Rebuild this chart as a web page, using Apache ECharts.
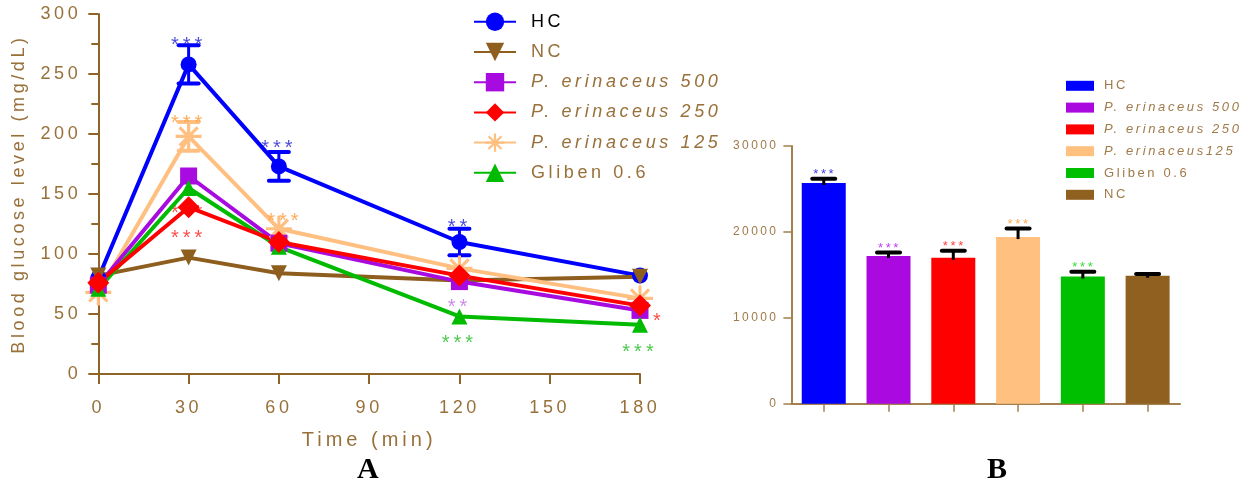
<!DOCTYPE html>
<html>
<head>
<meta charset="utf-8">
<script src="https://cdn.jsdelivr.net/npm/echarts@6/dist/echarts.min.js"></script>
<style>
  html, body { margin: 0; padding: 0; background: #fff; }
  #wrap { position: relative; width: 1252px; height: 481px; overflow: hidden; background: #fff; }
  #chartA { position: absolute; left: 0; top: 0; width: 730px; height: 481px; }
  #chartB { position: absolute; left: 730px; top: 0; width: 522px; height: 481px; }
</style>
</head>
<body>
<div id="wrap"><div id="chartA"></div><div id="chartB"></div></div>
<script>
// ---------- DATA (panel A: OGTT curve) ----------
const times = [0, 30, 60, 120, 180];
const seriesNames = ['HC', 'NC', 'P. erinaceus 500', 'P. erinaceus 250', 'P. erinaceus 125', 'Gliben 0.6'];
const hcValues     = [80, 258, 173, 110, 82];
const ncValues     = [82, 97, 84, 78, 81];
const pe500Values  = [74, 165, 109, 77, 53];
const pe250Values  = [76, 139, 110, 82, 57];
const pe125Values  = [68, 198, 121, 88, 63];
const glibenValues = [71, 155, 106, 48, 41];
const hcErr     = [0, 16, 12, 11, 0];
const ncErr     = [0, 0, 0, 0, 0];
const pe500Err  = [0, 0, 0, 0, 0];
const pe250Err  = [0, 0, 0, 0, 0];
const pe125Err  = [0, 12, 0, 0, 0];
const glibenErr = [0, 0, 0, 0, 0];
// significance marks: [time, value, text, series index]
const sigMarksA = [
  [30, 278, '***', 0], [60, 192, '***', 0], [120, 126, '**', 0],
  [30, 213, '***', 4], [62, 131, '***', 4],
  [30, 117, '***', 3], [186.3, 48, '*', 3],
  [120, 60, '**', 2],
  [120, 30, '***', 5], [180, 22.5, '***', 5]
];
const hiddenMarksA = [[30, 138, '***', 3]];

// ---------- DATA (panel B: AUC bars) ----------
const aucCategories = ['HC', 'P. erinaceus 500', 'P. erinaceus 250', 'P. erinaceus125', 'Gliben 0.6', 'NC'];
const aucValues = [25700, 17200, 17000, 19400, 14800, 14900];
const aucErr    = [500, 400, 800, 1000, 550, 200];
const aucStars  = ['***', '***', '***', '***', '***', ''];

// ---------- letter spacing emulation (for the wide-tracked sans text) ----------
(function () {
  const P = CanvasRenderingContext2D.prototype;
  function setLS(ctx) {
    try {
      const f = ctx.font || '';
      const m = /([\d.]+)px/.exec(f);
      const serif = /serif/i.test(f) && !/sans/i.test(f);
      const ls = (m && !serif) ? parseFloat(m[1]) * 0.2 : 0;
      ctx.letterSpacing = ls.toFixed(2) + 'px';
    } catch (e) {}
  }
  ['fillText', 'strokeText', 'measureText'].forEach(function (k) {
    const orig = P[k];
    P[k] = function () { setLS(this); return orig.apply(this, arguments); };
  });
})();

// ---------- STYLES ----------
const FONT = 'Liberation Sans, Arial, sans-serif';
const axisColA = '#8f6429';
const textColA = '#98703a';
const lineColors = ['#0000ff', '#8e5e1f', '#a80be0', '#ff0000', '#ffbf80', '#00bb00'];
const markColors = ['#1c1cd0', '#8e5e1f', '#c070e8', '#ff2020', '#ff9933', '#22bb22'];
const asteriskPath = 'path://M0 44H100V56H0Z M44 0H56V100H44Z M19.24 10.76L89.24 80.76L80.76 89.24L10.76 19.24Z M80.76 10.76L89.24 19.24L19.24 89.24L10.76 80.76Z';
const symbols = ['circle', 'triangle', 'rect', 'diamond', asteriskPath, 'triangle'];
const symbolSizes = [16, 16, 17, 22, 26, 16];
const symbolRot = [0, 180, 0, 0, 0, 0];

const valuesBySeries = [hcValues, ncValues, pe500Values, pe250Values, pe125Values, glibenValues];
const errBySeries = [hcErr, ncErr, pe500Err, pe250Err, pe125Err, glibenErr];
const drawOrder = [0, 1, 4, 2, 5, 3];

// ---------- PANEL A ----------
const chartA = echarts.init(document.getElementById('chartA'), null, { renderer: 'canvas' });
const errData = [];
drawOrder.forEach(function (si) {
  times.forEach(function (t, i) {
    if (errBySeries[si][i] > 0) errData.push([t, valuesBySeries[si][i], errBySeries[si][i], si]);
  });
});
const lineSeries = drawOrder.map(function (si) {
  return {
    name: seriesNames[si], type: 'line', z: 3,
    data: times.map(function (t, i) { return [t, valuesBySeries[si][i]]; }),
    symbol: symbols[si], symbolSize: symbolSizes[si], symbolRotate: symbolRot[si],
    showAllSymbol: true,
    lineStyle: { color: lineColors[si], width: 4 },
    itemStyle: { color: lineColors[si], borderWidth: 0 },
    emphasis: { disabled: true }
  };
});
function markSeries(list, z) {
  return {
    type: 'scatter', z: z, clip: false, silent: true, symbolSize: 1,
    itemStyle: { color: 'rgba(0,0,0,0)' },
    data: list.map(function (a) {
      return { value: [a[0], a[1]], label: { formatter: a[2], color: markColors[a[3]] } };
    }),
    label: { show: true, position: 'inside', fontSize: 20, fontFamily: FONT, offset: [0, 5] }
  };
}
const legendDataA = seriesNames.map(function (n, i) {
  return { name: n, textStyle: { color: i === 0 ? '#000' : textColA, fontStyle: n.indexOf('P.') === 0 ? 'italic' : 'normal' } };
});
chartA.setOption({
  animation: false,
  title: { text: 'A', left: 352, top: 450, textStyle: { fontFamily: 'Liberation Serif, Times New Roman, serif', fontWeight: 'bold', fontSize: 30, color: '#000' } },
  legend: {
    orient: 'vertical', left: 468, top: 6, itemWidth: 42, itemHeight: 23, itemGap: 8.6,
    data: legendDataA,
    textStyle: { fontSize: 18, fontFamily: FONT, color: textColA, padding: [0, 0, 0, 10] }
  },
  grid: { left: 97, top: 14, width: 543, height: 360 },
  xAxis: {
    type: 'value', min: 0, max: 180, interval: 30,
    name: 'Time (min)', nameLocation: 'middle', nameGap: 54,
    nameTextStyle: { fontSize: 20, fontFamily: FONT, color: textColA },
    axisLine: { lineStyle: { color: axisColA, width: 2 } },
    axisTick: { show: true, length: 10, lineStyle: { color: axisColA, width: 2 } },
    axisLabel: { fontSize: 18, fontFamily: FONT, color: textColA, margin: 23 },
    splitLine: { show: false }
  },
  yAxis: {
    type: 'value', min: 0, max: 300, interval: 50,
    name: 'Blood glucose level (mg/dL)', nameLocation: 'middle', nameGap: 66,
    nameTextStyle: { fontSize: 18, fontFamily: FONT, color: textColA },
    axisLine: { show: true, lineStyle: { color: axisColA, width: 2 } },
    axisTick: { show: true, length: 10, lineStyle: { color: axisColA, width: 2 } },
    minorTick: { show: true, splitNumber: 2, length: 7, lineStyle: { color: axisColA, width: 2 } },
    axisLabel: { fontSize: 18, fontFamily: FONT, color: textColA, margin: 17 },
    splitLine: { show: false }
  },
  series: [
    {
      type: 'custom', z: 2, silent: true, clip: false,
      data: errData,
      renderItem: function (params, api) {
        const x = api.value(0), v = api.value(1), e = api.value(2), si = api.value(3);
        const top = api.coord([x, v + e]), bot = api.coord([x, v - e]);
        const c = lineColors[si], hw = 10;
        return {
          type: 'group', children: [
            { type: 'line', shape: { x1: top[0], y1: top[1], x2: bot[0], y2: bot[1] }, style: { stroke: c, lineWidth: 3 } },
            { type: 'line', shape: { x1: top[0] - hw, y1: top[1], x2: top[0] + hw, y2: top[1] }, style: { stroke: c, lineWidth: 4, lineCap: 'round' } },
            { type: 'line', shape: { x1: bot[0] - hw, y1: bot[1], x2: bot[0] + hw, y2: bot[1] }, style: { stroke: c, lineWidth: 4, lineCap: 'round' } }
          ]
        };
      }
    },
    markSeries(hiddenMarksA, 1)
  ].concat(lineSeries).concat([markSeries(sigMarksA, 5)])
});

// ---------- PANEL B ----------
const axisColB = '#a47f4f';
const textColB = '#9f7a4a';
const barColors = ['#0000ff', '#aa0adf', '#ff0000', '#ffc080', '#00bf00', '#8f6020'];
const starColors = ['#4040e8', '#c040f0', '#ff4040', '#ffaa55', '#33dd33', '#000'];
const chartB = echarts.init(document.getElementById('chartB'), null, { renderer: 'canvas' });
const barSeries = aucCategories.map(function (name, i) {
  return {
    name: name, type: 'bar', stack: 'auc', barWidth: 44, z: 2,
    itemStyle: { color: barColors[i] },
    emphasis: { disabled: true },
    data: aucValues.map(function (v, j) { return j === i ? v : '-'; })
  };
});
chartB.setOption({
  animation: false,
  title: { text: 'B', left: 252, top: 450, textStyle: { fontFamily: 'Liberation Serif, Times New Roman, serif', fontWeight: 'bold', fontSize: 30, color: '#000' } },
  legend: {
    orient: 'vertical', left: 331, top: 73, itemWidth: 28, itemHeight: 10, itemGap: 6.2,
    icon: 'rect',
    data: aucCategories.map(function (n) { return { name: n, textStyle: { fontStyle: n.indexOf('P.') === 0 ? 'italic' : 'normal' } }; }),
    textStyle: { fontSize: 13, fontFamily: FONT, color: textColB, padding: [0, 0, 0, 5] }
  },
  grid: { left: 61, top: 146, width: 389, height: 257.7 },
  xAxis: {
    type: 'category', data: aucCategories,
    axisLine: { lineStyle: { color: axisColB, width: 2 } },
    axisTick: { show: true, alignWithLabel: true, interval: 0, length: 8, lineStyle: { color: axisColB, width: 1.5 } },
    axisLabel: { show: false, interval: 0 }
  },
  yAxis: {
    type: 'value', min: 0, max: 30000, interval: 10000,
    axisLine: { show: true, lineStyle: { color: axisColB, width: 2 } },
    axisTick: { show: true, length: 8, lineStyle: { color: axisColB, width: 1.5 } },
    axisLabel: { fontSize: 12, fontFamily: FONT, color: textColB, margin: 13, formatter: function (v) { return String(v); } },
    splitLine: { show: false }
  },
  series: barSeries.concat([{
    type: 'custom', z: 5, silent: true, clip: false,
    data: aucValues.map(function (v, i) { return [i, v, aucErr[i]]; }),
    renderItem: function (params, api) {
      const i = api.value(0), v = api.value(1), e = api.value(2);
      const top = api.coord([i, v + e]), base = api.coord([i, v]);
      const hw = 11.5;
      return {
        type: 'group', children: [
          { type: 'line', shape: { x1: top[0], y1: top[1], x2: base[0], y2: base[1] + 2 }, style: { stroke: '#000', lineWidth: 3 } },
          { type: 'line', shape: { x1: top[0] - hw, y1: top[1], x2: top[0] + hw, y2: top[1] }, style: { stroke: '#000', lineWidth: 4, lineCap: 'round' } },
          { type: 'text', style: { text: aucStars[i], x: top[0] + 1, y: top[1] - 4, fill: starColors[i], font: '13px ' + FONT, textAlign: 'center', textVerticalAlign: 'middle' } }
        ]
      };
    }
  }])
});
</script>
</body>
</html>
